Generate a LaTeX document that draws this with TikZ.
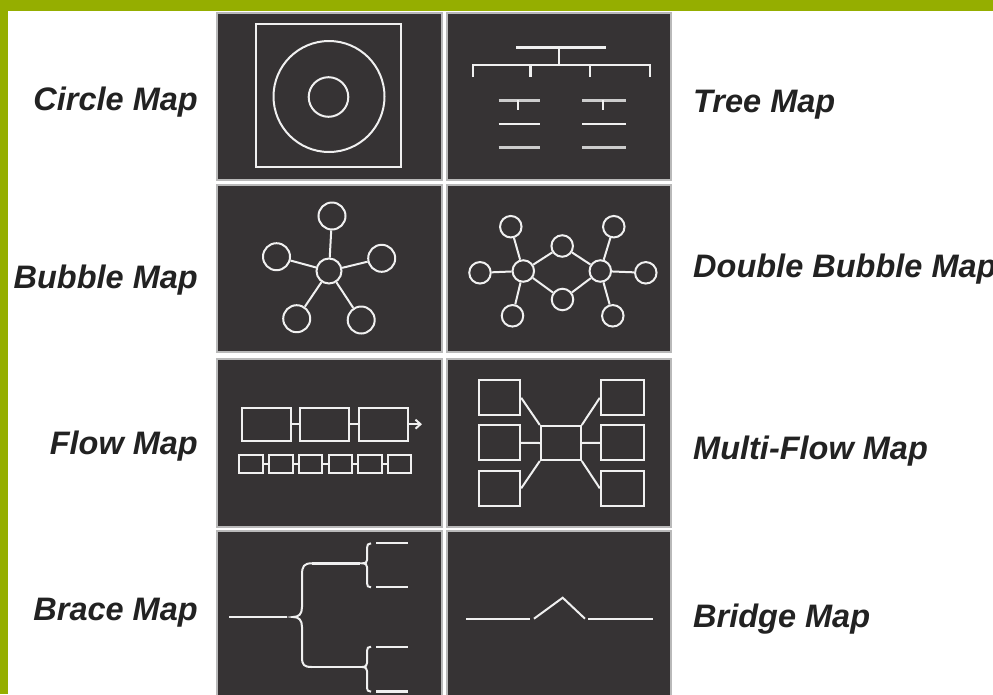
\documentclass[tikz,border=0pt]{standalone}
\usepackage{fontspec}
\setmainfont{Liberation Sans}
\usetikzlibrary{arrows.meta}
\definecolor{olive}{HTML}{95AE00}
\definecolor{cellc}{HTML}{363334}
\definecolor{ink}{HTML}{F0F0F0}
\definecolor{txt}{HTML}{222222}
\tikzset{
  cellbox/.style={fill=cellc, draw=gray!55, line width=1.2pt},
  lab/.style={font=\fontsize{32.5}{36}\selectfont\bfseries\itshape, text=txt, inner sep=0pt},
  ln/.style={draw=ink, line width=2pt},
  bub/.style={circle, draw=ink, line width=2pt, minimum size=27pt, inner sep=0pt},
  sbub/.style={circle, draw=ink, line width=2pt, minimum size=21.5pt, inner sep=0pt},
  fbox/.style={rectangle, draw=ink, line width=2pt, minimum width=49pt, minimum height=33pt, inner sep=0pt},
  sfbox/.style={rectangle, draw=ink, line width=2pt, minimum width=23.5pt, minimum height=18pt, inner sep=0pt},
  mbox/.style={rectangle, draw=ink, line width=2pt, minimum width=41pt, minimum height=35pt, inner sep=0pt},
}
\begin{document}
\begin{tikzpicture}[x=1pt,y=-1pt]
\useasboundingbox (0,0) rectangle (993,694);
\fill[white] (0,0) rectangle (993,694);
% green frame
\fill[olive] (0,0) rectangle (993,11);
\fill[olive] (0,0) rectangle (8,694);
% cells
\path[cellbox] (217,13) rectangle (442,180);
\path[cellbox] (447,13) rectangle (671,180);
\path[cellbox] (217,185) rectangle (442,352);
\path[cellbox] (447,185) rectangle (671,352);
\path[cellbox] (217,359) rectangle (442,527);
\path[cellbox] (447,359) rectangle (671,527);
\path[cellbox] (217,531) rectangle (442,700);
\path[cellbox] (447,531) rectangle (671,700);

% labels
\node[lab, anchor=base east] (lcircle) at (198,110) {Circle Map};
\node[lab, anchor=base east] (lbubble) at (198,288) {Bubble Map};
\node[lab, anchor=base east] (lflow) at (198,454) {Flow Map};
\node[lab, anchor=base east] (lbrace) at (198,620) {Brace Map};
\node[lab, anchor=base west] (ltree) at (693,112) {Tree Map};
\node[lab, anchor=base west] (ldbl) at (693,277) {Double Bubble Map};
\node[lab, anchor=base west] (lmulti) at (693,459) {Multi-Flow Map};
\node[lab, anchor=base west] (lbridge) at (693,627) {Bridge Map};

% circle map
\draw[ln] (256,24) rectangle (401,167);
\draw[ln] (329,96.5) circle (55.5);
\draw[ln] (328.5,97) circle (19.8);

% tree map
\draw[draw=ink, line width=3pt] (516,47.5) -- (606,47.5);
\draw[ln] (559,47.5) -- (559,64.5);
\draw[ln] (473,77) -- (473,64.5) -- (650,64.5) -- (650,77);
\draw[ln, line width=2.5pt] (530.7,64.5) -- (530.7,77);
\draw[ln, line width=2.5pt] (590,64.5) -- (590,77);
\draw[ln, line width=3pt, draw=ink!85!black] (498.5,100) -- (540,100);
\draw[ln, line width=3pt, draw=ink!85!black] (582,100) -- (625.5,100);
\draw[ln] (518,100) -- (518,110);
\draw[ln] (603,100) -- (603,110);
\draw[ln] (498.5,124) -- (540,124);
\draw[ln] (582,124) -- (625.5,124);
\draw[ln, line width=3pt, draw=ink!85!black] (498.5,147.5) -- (540,147.5);
\draw[ln, line width=3pt, draw=ink!85!black] (582,147.5) -- (625.5,147.5);

% bubble map
\node[bub, minimum size=25pt] (bc) at (329,271) {};
\node[bub] (bt) at (332,216) {};
\node[bub] (bl) at (276.5,256.7) {};
\node[bub] (br) at (381.7,258.3) {};
\node[bub] (bbl) at (296.7,318.7) {};
\node[bub] (bbr) at (361.2,320) {};
\foreach \n in {bt,bl,br,bbl,bbr} \draw[ln] (bc) -- (\n);

% double bubble map
\node[sbub] (dl) at (523.3,271) {};
\node[sbub] (dr) at (600.3,271) {};
\node[sbub] (dtm) at (562.2,246) {};
\node[sbub] (dbm) at (562.5,299.5) {};
\node[sbub] (dlo) at (480,272.8) {};
\node[sbub] (dro) at (645.8,272.8) {};
\node[sbub] (dtl) at (510.8,226.7) {};
\node[sbub] (dtr) at (613.8,226.7) {};
\node[sbub] (dbl) at (512.5,315.8) {};
\node[sbub] (dbr) at (612.8,315.8) {};
\foreach \n in {dtm,dbm,dlo,dtl,dbl} \draw[ln] (dl) -- (\n);
\foreach \n in {dtm,dbm,dro,dtr,dbr} \draw[ln] (dr) -- (\n);

% flow map
\node[fbox] (f1) at (266.2,424.2) {};
\node[fbox] (f2) at (324.8,424.2) {};
\node[fbox] (f3) at (383.8,424.2) {};
\coordinate (fend) at (422,424.2);
\draw[ln] (f1) -- (f2);
\draw[ln] (f2) -- (f3);
\draw[ln, -{Straight Barb[length=5pt,width=9pt]}] (f3) -- (fend);
\foreach \i/\x in {1/251.2,2/280.9,3/310.6,4/340.3,5/370.0,6/399.7}
  \node[sfbox] (s\i) at (\x,464.2) {};
\foreach \a/\b in {s1/s2,s2/s3,s3/s4,s4/s5,s5/s6} \draw[ln] (\a) -- (\b);

% multi-flow map
\node[mbox] (ml1) at (499.7,397.8) {};
\node[mbox] (ml2) at (499.7,442.8) {};
\node[mbox] (ml3) at (499.7,488.3) {};
\node[mbox, minimum width=43pt] (mr1) at (622.3,397.8) {};
\node[mbox, minimum width=43pt] (mr2) at (622.3,442.8) {};
\node[mbox, minimum width=43pt] (mr3) at (622.3,488.3) {};
\node[mbox, minimum width=40pt, minimum height=34pt] (mc) at (560.8,443) {};
\draw[ln] (ml1.east) -- (mc.north west);
\draw[ln] (ml2.east) -- (mc.west);
\draw[ln] (ml3.east) -- (mc.south west);
\draw[ln] (mr1.west) -- (mc.north east);
\draw[ln] (mr2.west) -- (mc.east);
\draw[ln] (mr3.west) -- (mc.south east);

% brace map
\draw[ln] (229,617) -- (287,617);
\draw[ln] (312,563.3) .. controls (304,563.3) and (302,566) .. (302,575) -- (302,607) .. controls (302,614) and (299,617) .. (293,617) .. controls (299,617) and (302,620) .. (302,627) -- (302,657) .. controls (302,665) and (304,667) .. (312,667);
\draw[ln, line width=2.6pt] (312,563.3) -- (360,563.3);
\draw[ln] (312,667) -- (360,667);
\draw[ln] (371,543.3) .. controls (368,543.3) and (367,545) .. (367,548) -- (367,560) .. controls (367,562) and (366,563.3) .. (362,563.3) .. controls (366,563.3) and (367,565) .. (367,567) -- (367,583) .. controls (367,586) and (368,587.3) .. (371,587.3);
\draw[ln] (376,543.3) -- (408,543.3);
\draw[ln] (376,587.3) -- (408,587.3);
\draw[ln] (371,646.7) .. controls (368,646.7) and (367,648) .. (367,651) -- (367,663) .. controls (367,665) and (366,667) .. (362,667) .. controls (366,667) and (367,669) .. (367,671) -- (367,688) .. controls (367,690) and (368,691.7) .. (371,691.7);
\draw[ln] (376,646.7) -- (408,646.7);
\draw[ln, line width=2.6pt] (376,691.7) -- (408,691.7);

% bridge map
\draw[ln] (466,618.7) -- (530,618.7);
\draw[ln] (534,618.7) -- (562.7,597.7) -- (585,618.7);
\draw[ln] (588.3,618.7) -- (652.7,618.7);
\end{tikzpicture}
\end{document}
